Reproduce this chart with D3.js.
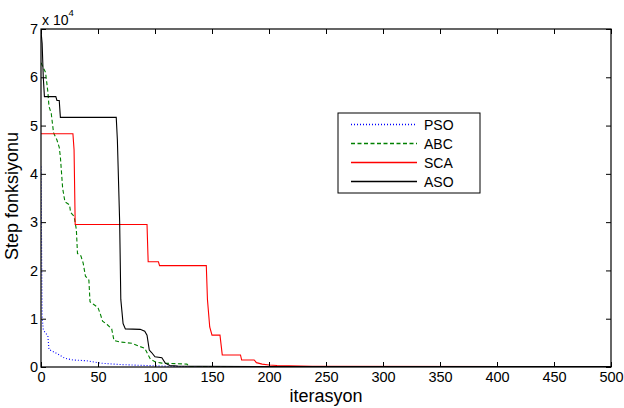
<!DOCTYPE html>
<html>
<head>
<meta charset="utf-8">
<script src="https://cdn.jsdelivr.net/npm/d3@7"></script>
<style>
  body { margin: 0; background: #fff; }
  text { font-family: "Liberation Sans", Arial, sans-serif; fill: #000; }
</style>
</head>
<body>
<div id="app"></div>
<script>
const w = 624;
const h = 408;

// convergence curves, [iteration, value]
const psoData = [[0,41500],[1,10500],[2,7700],[4,7000],[6,6500],[7,3600],[9,3400],[13,2900],[21,1800],[28,1450],[40,1300],[52,800],[70,500],[93,300],[120,100],[500,50]];
const abcData = [[0,63000],[1,62500],[3,61500],[4,61000],[5,59000],[6,57000],[7,54000],[9,52500],[11,48500],[14,47000],[16,45500],[17,43500],[19,37000],[21,34200],[25,33600],[26,32000],[29,31200],[31,28500],[32,23500],[35,23000],[37,21500],[39,18800],[42,18000],[43,13500],[46,13000],[50,12300],[52,11000],[54,9500],[58,8800],[62,7900],[64,5500],[69,5200],[80,4900],[86,4300],[91,3900],[94,2500],[96,1600],[100,1100],[106,800],[128,600],[130,100],[500,50]];
const scaData = [[0,48300],[28,48300],[29,45000],[30,29500],[93,29500],[94,21800],[103,21800],[104,21000],[145,21000],[146,14000],[148,8300],[150,6600],[157,6600],[159,2500],[175,2500],[176,1450],[187,1450],[189,900],[194,600],[200,400],[207,300],[238,150],[500,100]];
const asoData = [[0,69500],[1,67000],[2,60000],[3,56000],[13,56000],[14,55200],[16,55200],[17,51700],[66,51700],[67,47000],[69,30000],[70,14000],[72,9000],[74,7900],[87,7800],[91,7400],[93,6600],[95,3500],[97,3000],[100,2100],[106,1900],[109,800],[113,300],[120,200],[140,150],[200,100],[500,80]];

const seriesNames = ['PSO', 'ABC', 'SCA', 'ASO'];
const seriesData = [psoData, abcData, scaData, asoData];
const seriesColors = ['#0000ff', '#008000', '#ff0000', '#000000'];
const seriesDash = ['1,2', '4,2.5', null, null];

const xTicks = [0, 50, 100, 150, 200, 250, 300, 350, 400, 450, 500];
const yTicks = [0, 10000, 20000, 30000, 40000, 50000, 60000, 70000];

const margin = { left: 41, top: 29, right: 13, bottom: 41 };

const svg = d3.select('#app')
  .append('svg')
  .attr('width', w)
  .attr('height', h);

const x = d3.scaleLinear().domain([0, 500]).range([margin.left, w - margin.right]);
const y = d3.scaleLinear().domain([0, 70000]).range([h - margin.bottom, margin.top]);

svg.append('clipPath')
  .attr('id', 'plot-clip')
  .append('rect')
  .attr('x', x(0))
  .attr('y', y(70000))
  .attr('width', x(500) - x(0))
  .attr('height', y(0) - y(70000));

//////////LINES//////////

const line = d3.line()
  .x((d) => x(d[0]))
  .y((d) => y(d[1]));

const lines = svg.append('g').attr('clip-path', 'url(#plot-clip)');

seriesData.forEach((data, i) => {
  lines.append('path')
    .datum(data)
    .attr('fill', 'none')
    .attr('stroke', seriesColors[i])
    .attr('stroke-width', 1.1)
    .attr('stroke-dasharray', seriesDash[i])
    .attr('d', line);
});

//////////AXES//////////

const tickLen = 5;

const axisStyle = (g) => {
  g.select('.domain').remove();
  g.selectAll('line').attr('stroke', '#000');
  g.selectAll('text').style('font-size', '14.5px').style('font-family', '"Liberation Sans", Arial, sans-serif');
};

svg.append('g')
  .attr('transform', `translate(0,${y(0)})`)
  .call(d3.axisBottom(x).tickValues(xTicks).tickSize(-tickLen).tickPadding(5))
  .call(axisStyle);

svg.append('g')
  .attr('transform', `translate(0,${y(70000)})`)
  .call(d3.axisTop(x).tickValues(xTicks).tickSize(-tickLen).tickFormat(''))
  .call(axisStyle);

svg.append('g')
  .attr('transform', `translate(${x(0)},0)`)
  .call(d3.axisLeft(y).tickValues(yTicks).tickSize(-tickLen).tickPadding(3).tickFormat((d) => d / 10000))
  .call(axisStyle);

svg.append('g')
  .attr('transform', `translate(${x(500)},0)`)
  .call(d3.axisRight(y).tickValues(yTicks).tickSize(-tickLen).tickFormat(''))
  .call(axisStyle);

svg.append('rect')
  .attr('x', x(0))
  .attr('y', y(70000))
  .attr('width', x(500) - x(0))
  .attr('height', y(0) - y(70000))
  .attr('fill', 'none')
  .attr('stroke', '#000')
  .attr('stroke-width', 1.2);

// exponent label
const expo = svg.append('text')
  .attr('x', 42)
  .attr('y', 25)
  .style('font-size', '14px');
expo.append('tspan').text('x 10');
expo.append('tspan')
  .attr('dy', -9)
  .style('font-size', '9.5px')
  .text('4');

//////////TITLES//////////

svg.append('text')
  .attr('x', (x(0) + x(500)) / 2)
  .attr('y', 402)
  .attr('text-anchor', 'middle')
  .style('font-size', '18px')
  .text('iterasyon');

svg.append('text')
  .attr('transform', 'translate(18,196) rotate(-90)')
  .attr('text-anchor', 'middle')
  .style('font-size', '18px')
  .text('Step fonksiyonu');

//////////LEGEND//////////

const legend = svg.append('g').attr('transform', 'translate(338,113)');

legend.append('rect')
  .attr('width', 142)
  .attr('height', 80)
  .attr('fill', '#fff')
  .attr('stroke', '#000')
  .attr('stroke-width', 1);

seriesNames.forEach((name, i) => {
  const ly = 11.5 + i * 19;
  legend.append('line')
    .attr('x1', 13)
    .attr('x2', 79)
    .attr('y1', ly)
    .attr('y2', ly)
    .attr('stroke', seriesColors[i])
    .attr('stroke-width', 1.3)
    .attr('stroke-dasharray', seriesDash[i]);
  legend.append('text')
    .attr('x', 86)
    .attr('y', ly + 5)
    .style('font-size', '14px')
    .text(name);
});
</script>
</body>
</html>
